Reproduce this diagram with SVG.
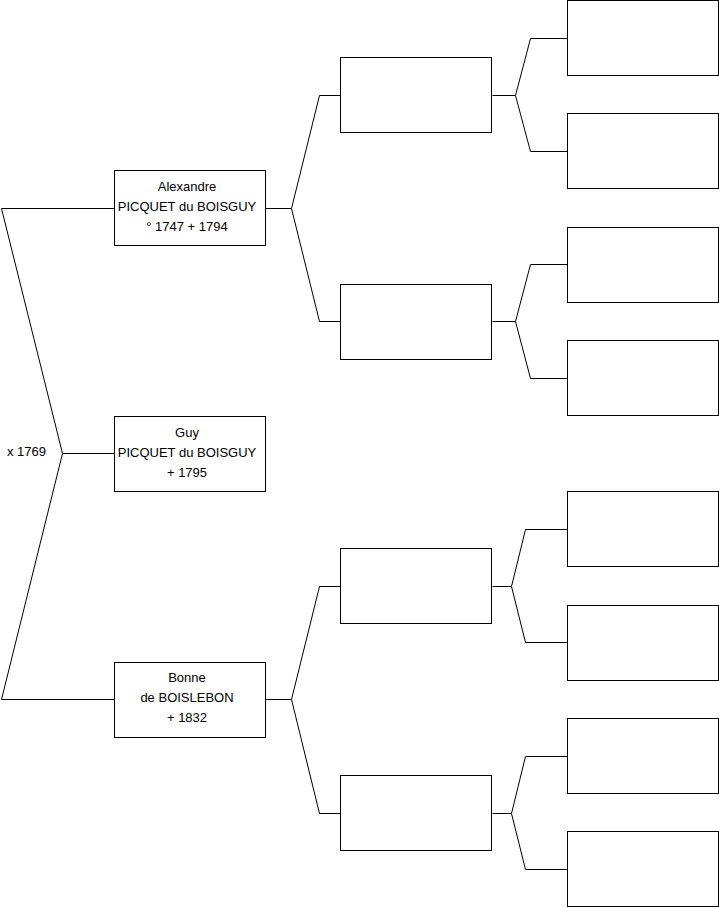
<svg xmlns="http://www.w3.org/2000/svg" width="719" height="908" viewBox="0 0 719 908">
<style>
.box{fill:#fff;stroke:#000;stroke-width:1}
.ln{fill:none;stroke:#000;stroke-width:1}
text{font-family:"Liberation Sans",Arial,sans-serif;font-size:13px;fill:#000}
.c{text-anchor:middle}
</style>
<rect width="719" height="908" fill="#fff"/>
<g id="connectors">
<path class="ln" d="M114.5,208.5 H1.5 L62.5,453.5 L1.5,699.5 H114.5"/>
<path class="ln" d="M62.5,453.5 H114.5"/>
<path class="ln" d="M265.5,208.5 H291.5 L319.5,95.5 H340.5 M291.5,208.5 L319.5,321.5 H340.5"/>
<path class="ln" d="M265.5,699.5 H291.5 L319.5,586.5 H340.5 M291.5,699.5 L319.5,813.5 H340.5"/>
<path class="ln" d="M492.5,95.5 H515.5 L530.5,38.5 H567.5 M515.5,95.5 L530.5,151.5 H567.5"/>
<path class="ln" d="M492.5,321.5 H515.5 L530.5,264.5 H567.5 M515.5,321.5 L530.5,378.5 H567.5"/>
<path class="ln" d="M492.5,586.5 H511.5 L525.5,529.5 H567.5 M511.5,586.5 L525.5,642.5 H567.5"/>
<path class="ln" d="M492.5,813.5 H511.5 L525.5,756.5 H567.5 M511.5,813.5 L525.5,869.5 H567.5"/>
</g>
<g id="marriage"><text x="7" y="456">x 1769</text></g>
<g id="alexandre">
<rect class="box" x="114.5" y="170.5" width="151" height="75"/>
<text class="c" x="187" y="191">Alexandre</text>
<text class="c" x="187" y="211">PICQUET du BOISGUY</text>
<text class="c" x="187" y="231">° 1747 + 1794</text>
</g>
<g id="guy">
<rect class="box" x="114.5" y="416.5" width="151" height="75"/>
<text class="c" x="187" y="437">Guy</text>
<text class="c" x="187" y="457">PICQUET du BOISGUY</text>
<text class="c" x="187" y="477">+ 1795</text>
</g>
<g id="bonne">
<rect class="box" x="114.5" y="662.5" width="151" height="75"/>
<text class="c" x="187" y="682">Bonne</text>
<text class="c" x="187" y="702">de BOISLEBON</text>
<text class="c" x="187" y="722">+ 1832</text>
</g>
<g id="g2a"><rect class="box" x="340.5" y="57.5" width="151" height="75"/></g>
<g id="g2b"><rect class="box" x="340.5" y="284.5" width="151" height="75"/></g>
<g id="g2c"><rect class="box" x="340.5" y="548.5" width="151" height="75"/></g>
<g id="g2d"><rect class="box" x="340.5" y="775.5" width="151" height="75"/></g>
<g id="g3a"><rect class="box" x="567.5" y="0.5" width="151" height="75"/></g>
<g id="g3b"><rect class="box" x="567.5" y="113.5" width="151" height="75"/></g>
<g id="g3c"><rect class="box" x="567.5" y="227.5" width="151" height="75"/></g>
<g id="g3d"><rect class="box" x="567.5" y="340.5" width="151" height="75"/></g>
<g id="g3e"><rect class="box" x="567.5" y="491.5" width="151" height="75"/></g>
<g id="g3f"><rect class="box" x="567.5" y="605.5" width="151" height="75"/></g>
<g id="g3g"><rect class="box" x="567.5" y="718.5" width="151" height="75"/></g>
<g id="g3h"><rect class="box" x="567.5" y="831.5" width="151" height="75"/></g>
</svg>
